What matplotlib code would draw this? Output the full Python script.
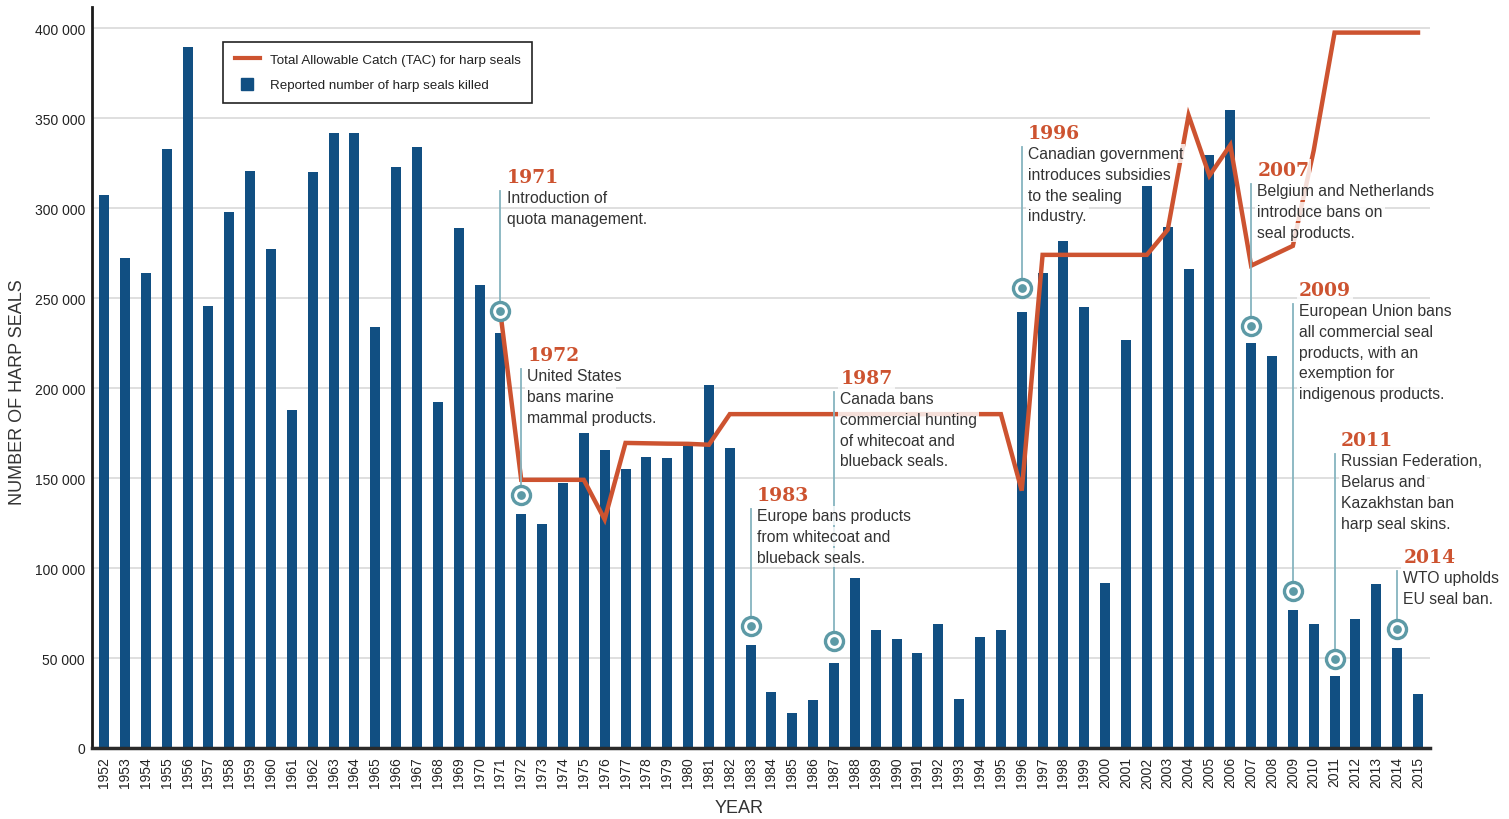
import numpy as np
import matplotlib.pyplot as plt
from matplotlib import font_manager
from matplotlib.lines import Line2D
from matplotlib.ticker import FuncFormatter


def has_font(name):
    try:
        font_manager.findfont(font_manager.FontProperties(family=name), fallback_to_default=False)
        return True
    except Exception:
        return False


narrow = 'Liberation Sans Narrow' if has_font('Liberation Sans Narrow') else 'Liberation Sans'
serif = 'DejaVu Serif'

# reported harp seals killed, 1952-2015
years = list(range(1952, 2016))
killed = [307000, 272500, 264000, 333000, 389500, 245500, 298000, 320500, 277500, 188000,
          320000, 341500, 341500, 234000, 323000, 334000, 192000, 289000, 257000, 230500,
          130000, 124500, 147000, 175000, 165500, 155000, 161500, 161000, 168000, 201500,
          166500, 57500, 31000, 19500, 26500, 47000, 94500, 65500, 60500, 53000,
          69000, 27000, 61500, 65500, 242500, 264000, 281500, 245000, 91500, 226500,
          312500, 289500, 266000, 329500, 354500, 225000, 218000, 76500, 69000, 40000,
          71500, 91000, 55500, 30000]

# total allowable catch
tac_years = [1971, 1972, 1973, 1974, 1975, 1976, 1977, 1978, 1979, 1980, 1981,
             1982, 1983, 1984, 1985, 1986, 1987, 1988, 1989, 1990, 1991, 1992, 1993, 1994, 1995,
             1996, 1997, 1998, 1999, 2000, 2001, 2002, 2003, 2004, 2005, 2006, 2007, 2008, 2009,
             2010, 2011, 2012, 2013, 2014, 2015]
tac = [242000, 149000, 149000, 149000, 149000, 127000, 169500, 169300, 169100, 169000, 168500,
       185500, 185500, 185500, 185500, 185500, 185500, 185500, 185500, 185500, 185500, 185500, 185500, 185500, 185500,
       143000, 274000, 274000, 274000, 274000, 274000, 274000, 288000, 351500, 318000, 335000, 268000, 273500, 279000,
       332000, 397500, 397500, 397500, 397500, 397500]

# events
ev_years = [1971, 1972, 1983, 1987, 1996, 2007, 2009, 2011, 2014]
ev_marker = [242800, 140600, 67800, 59400, 255600, 234500, 87200, 49400, 66100]
ev_top = [309500, 210600, 132800, 197800, 333900, 313400, 246700, 163300, 98300]
ev_text = ['Introduction of\nquota management.',
           'United States\nbans marine\nmammal products.',
           'Europe bans products\nfrom whitecoat and\nblueback seals.',
           'Canada bans\ncommercial hunting\nof whitecoat and\nblueback seals.',
           'Canadian government\nintroduces subsidies\nto the sealing\nindustry.',
           'Belgium and Netherlands\nintroduce bans on\nseal products.',
           'European Union bans\nall commercial seal\nproducts, with an\nexemption for\nindigenous products.',
           'Russian Federation,\nBelarus and\nKazakhstan ban\nharp seal skins.',
           'WTO upholds\nEU seal ban.']

blue = '#114f82'
red = '#cd5330'
teal = '#5d9aa6'
leader = '#86b4bf'
txt_c = '#333333'

fig = plt.figure(figsize=(15.09, 8.2), dpi=100)
ax = fig.add_axes([0.0610, 0.0866, 0.8867, 0.9036])

ax.bar(years, killed, width=0.48, color=blue, zorder=2)
ax.plot(tac_years, tac, color=red, lw=3.2, solid_joinstyle='miter', zorder=3)

halo = dict(facecolor='white', edgecolor='none', alpha=0.82, pad=1.5)
step = 11500  # one text line in data units
for yr, mv, tv, t in zip(ev_years, ev_marker, ev_top, ev_text):
    ax.plot([yr, yr], [mv, tv], color=leader, lw=1.3, zorder=3.5)
    for i, line in enumerate(t.split('\n')):
        ax.text(yr + 0.3, tv - 3800 - i * step, line, ha='left', va='center', fontsize=11.3,
                family=narrow, color=txt_c, bbox=halo, zorder=4)
    ax.text(yr + 0.3, tv + 5200, str(yr), ha='left', va='baseline', fontsize=13.5,
            family=serif, fontweight='bold', color=red, bbox=halo, zorder=4)
    ax.plot(yr, mv, marker='o', ms=13, mfc='white', mec=teal, mew=2.4, zorder=5)
    ax.plot(yr, mv, marker='o', ms=6.3, mfc=teal, mec=teal, mew=0, zorder=5.5)

ax.set_xlim(1951.42, 2015.58)
ax.set_ylim(0, 411700)
ax.set_yticks(np.arange(0, 400001, 50000))
ax.yaxis.set_major_formatter(FuncFormatter(lambda v, p: f'{int(v):,}'.replace(',', ' ')))
ax.set_xticks(years)
ax.set_xticklabels([str(y) for y in years], rotation=90, family=narrow, fontsize=10, color='#222222')
for lab in ax.get_yticklabels():
    lab.set_family(narrow)
    lab.set_fontsize(10)
    lab.set_color('#222222')
ax.tick_params(length=0)
ax.tick_params(axis='x', pad=6)
ax.tick_params(axis='y', pad=5)

ax.grid(axis='y', color='#d6d6d6', lw=1.1, zorder=0)
ax.set_axisbelow(True)
for s in ['top', 'right']:
    ax.spines[s].set_visible(False)
ax.spines['left'].set_linewidth(2)
ax.spines['left'].set_color('#1a1a1a')
ax.spines['bottom'].set_linewidth(2.5)
ax.spines['bottom'].set_color('#2a2a2a')

ax.set_ylabel('NUMBER OF HARP SEALS', family=narrow, fontsize=13, color=txt_c)
ax.yaxis.set_label_coords(-0.0493, 0.482)
ax.set_xlabel('YEAR', family=narrow, fontsize=13, color=txt_c)
ax.xaxis.set_label_coords(0.4836, -0.069)

handles = [Line2D([], [], color=red, lw=3),
           Line2D([], [], marker='s', ls='none', color=blue, markersize=8)]
labels = ['Total Allowable Catch (TAC) for harp seals', 'Reported number of harp seals killed']
leg = ax.legend(handles, labels, loc='upper left', bbox_to_anchor=(0.098, 0.953),
                frameon=True, fancybox=False, framealpha=1, edgecolor='#222222',
                prop={'family': narrow, 'size': 9.6}, handlelength=1.9, borderpad=0.85,
                labelspacing=1.0, handletextpad=0.75, borderaxespad=0)
leg.get_frame().set_linewidth(1.2)
for t in leg.get_texts():
    t.set_color('#222222')

fig.savefig('out.png', dpi=100)
